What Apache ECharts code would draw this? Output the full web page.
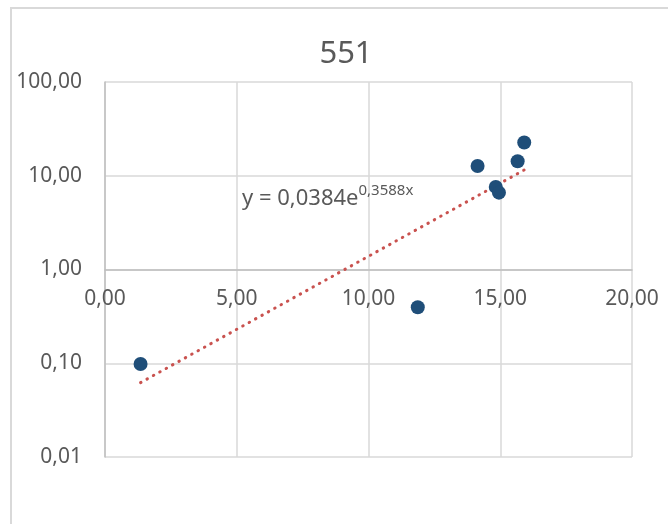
<!DOCTYPE html>
<html>
<head>
<meta charset="utf-8">
<script src="https://cdn.jsdelivr.net/npm/echarts@6/dist/echarts.min.js"></script>
<style>
html,body{margin:0;padding:0;background:#fff;}
#c{width:668px;height:524px;}
</style>
</head>
<body>
<div id="c"></div>
<script>
// Data
const chartTitle = '551';
const xValues = [1.35, 11.87, 14.14, 14.83, 14.95, 15.66, 15.91];
const yValues = [0.098, 0.396, 12.7, 7.6, 6.6, 14.3, 22.6];
const xTicks = [0, 5, 10, 15, 20];
const yTicks = [0.01, 0.1, 1, 10, 100];
const trendLabelMain = 'y = 0,0384e';
const trendLabelExp = '0,3588x';

// Exponential trendline: least squares on ln(y)
function expFit(xs, ys) {
  const n = xs.length;
  const ly = ys.map(v => Math.log(v));
  const mx = xs.reduce((a, b) => a + b, 0) / n;
  const my = ly.reduce((a, b) => a + b, 0) / n;
  let sxx = 0, sxy = 0;
  for (let i = 0; i < n; i++) { sxx += (xs[i] - mx) ** 2; sxy += (xs[i] - mx) * (ly[i] - my); }
  const b = sxy / sxx;
  const a = Math.exp(my - b * mx);
  return { a, b };
}
const fit = expFit(xValues, yValues);
const xMinData = Math.min(...xValues), xMaxData = Math.max(...xValues);
const trendData = [xMinData, xMaxData].map(x => [x, fit.a * Math.exp(fit.b * x)]);

const fmt = v => Number(v).toFixed(2).replace('.', ',');
const FONT = 'Noto Sans';
const GRID = { left: 105, top: 82, right: 36, bottom: 67 };
const gridH = 524 - GRID.top - GRID.bottom;

const chart = echarts.init(document.getElementById('c'));
chart.setOption({
  animation: false,
  backgroundColor: '#ffffff',
  title: {
    text: chartTitle,
    left: 341, top: 34, textAlign: 'center',
    textStyle: { fontFamily: FONT, fontSize: 31, fontWeight: 'normal', color: '#595959' }
  },
  graphic: [
    { type: 'rect', shape: { x: 11, y: 8, width: 720, height: 600 },
      style: { fill: 'none', stroke: '#d9d9d9', lineWidth: 2 }, silent: true, z: -1 }
  ],
  grid: { left: GRID.left, top: GRID.top, right: GRID.right, bottom: GRID.bottom, containLabel: false },
  xAxis: {
    type: 'value', min: xTicks[0], max: xTicks[xTicks.length - 1], interval: 5,
    position: 'bottom', offset: -gridH / 2,
    axisLine: { onZero: false, lineStyle: { color: '#bfbfbf', width: 1.5 } },
    axisTick: { show: false },
    axisLabel: { formatter: fmt, margin: 19, fontFamily: FONT, fontSize: 21, color: '#595959' },
    splitLine: { show: true, lineStyle: { color: '#d9d9d9', width: 1.5 } }
  },
  yAxis: {
    type: 'log', logBase: 10, min: yTicks[0], max: yTicks[yTicks.length - 1],
    axisLine: { show: true, lineStyle: { color: '#bfbfbf', width: 1.5 } },
    axisTick: { show: false },
    axisLabel: { formatter: fmt, margin: 23, fontFamily: FONT, fontSize: 21, color: '#595959' },
    splitLine: { show: true, lineStyle: { color: '#d9d9d9', width: 1.5 } }
  },
  series: [
    {
      type: 'line', data: trendData, symbol: 'none', silent: true, z: 3,
      lineStyle: { color: '#c9524f', width: 3, type: [0.5, 6.8], cap: 'round' },
      markPoint: {
        symbol: 'rect', symbolSize: 1, itemStyle: { color: 'transparent' },
        data: [{ coord: [5.18, 6.0], label: {
          show: true, position: 'right', distance: 0,
          formatter: '{a|' + trendLabelMain + '}{b|' + trendLabelExp + '}',
          rich: {
            a: { fontFamily: FONT, fontSize: 22, color: '#595959', lineHeight: 26, verticalAlign: 'bottom' },
            b: { fontFamily: FONT, fontSize: 15, color: '#595959', lineHeight: 26, verticalAlign: 'top', padding: [0, 0, 8, 0] }
          }
        } }]
      }
    },
    {
      type: 'scatter', data: xValues.map((x, i) => [x, yValues[i]]),
      symbol: 'circle', symbolSize: 14, z: 4,
      itemStyle: { color: '#1f4e79', opacity: 1 }
    }
  ]
});
</script>
</body>
</html>
